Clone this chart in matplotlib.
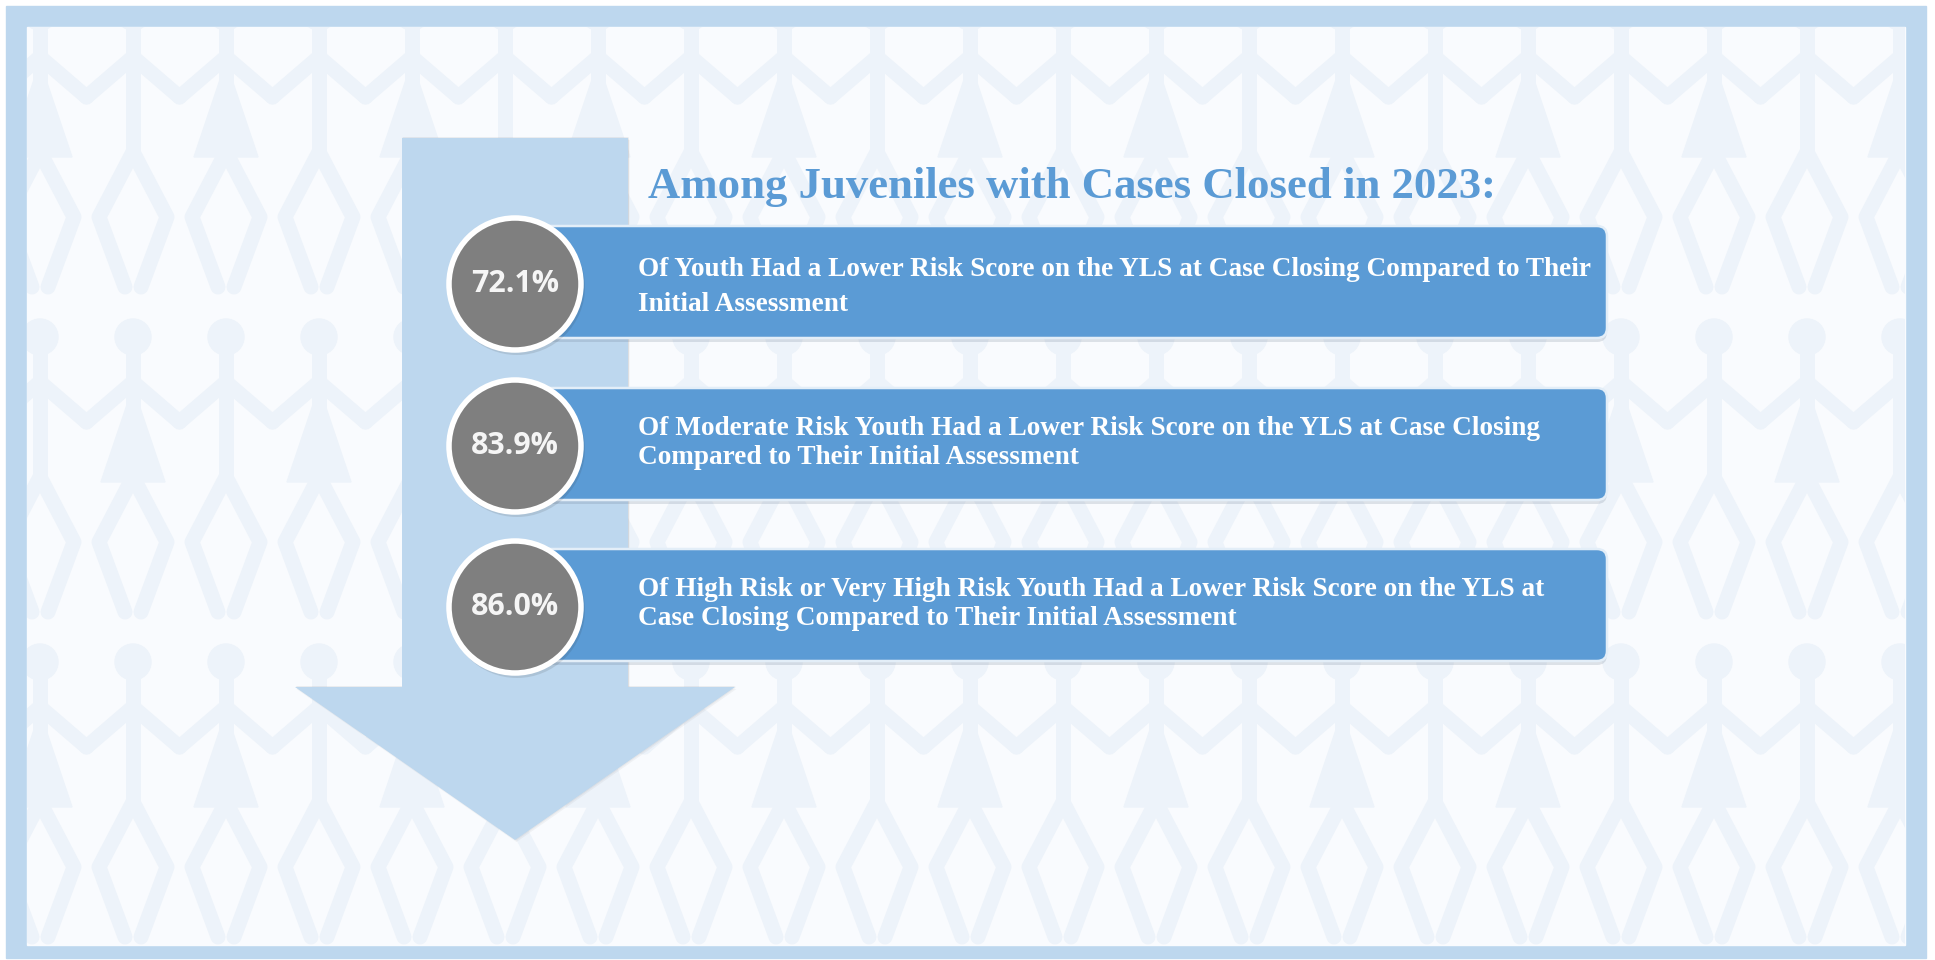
import matplotlib
matplotlib.use("Agg")
import matplotlib.pyplot as plt
from matplotlib.patches import Rectangle, Circle, Polygon, FancyBboxPatch

# content
title = "Among Juveniles with Cases Closed in 2023:"
percents = ["72.1%", "83.9%", "86.0%"]
line_one = [
    "Of Youth Had a Lower Risk Score on the YLS at Case Closing Compared to Their",
    "Of Moderate Risk Youth Had a Lower Risk Score on the YLS at Case Closing",
    "Of High Risk or Very High Risk Youth Had a Lower Risk Score on the YLS at",
]
line_two = [
    "Initial Assessment",
    "Compared to Their Initial Assessment",
    "Case Closing Compared to Their Initial Assessment",
]

frame_col = "#BDD7EE"
bg_col = "#F9FBFE"
doll_col = "#EDF3FA"
box_col = "#5B9BD5"
circle_col = "#7F7F7F"

W, H = 1935, 960
fig = plt.figure(figsize=(W / 100, H / 100), dpi=100)
ax = fig.add_axes([0, 0, 1, 1])
ax.set_xlim(0, W)
ax.set_ylim(H, 0)
ax.axis("off")
renderer = fig.canvas.get_renderer()

# frame + background
ax.add_patch(Rectangle((6, 6), 1920, 952, color=frame_col, zorder=0))
inner = Rectangle((27, 27), 1878, 918, color=bg_col, zorder=0.5)
ax.add_patch(inner)

# faint paper doll pattern
px = 72 / 100  # points per pixel


def doll(hx, hy, girl):
    kw = dict(color=doll_col, lw=15 * px, solid_capstyle="round", zorder=1)
    arts = []
    arts += ax.plot([hx, hx], [hy + 15, hy + 140], **kw)
    arts += ax.plot([hx - 46.5, hx, hx + 46.5], [hy + 85, hy + 45, hy + 85], **kw)
    arts += ax.plot([hx - 8, hx - 34, hx, hx + 34, hx + 8],
                    [hy + 275, hy + 205, hy + 140, hy + 205, hy + 275], **kw)
    head = Circle((hx, hy), 18, color=doll_col, zorder=1)
    ax.add_patch(head)
    arts.append(head)
    if girl:
        dress = Polygon([(hx, hy + 50), (hx - 32, hy + 145), (hx + 32, hy + 145)],
                        color=doll_col, zorder=1)
        ax.add_patch(dress)
        arts.append(dress)
    for a in arts:
        a.set_clip_path(inner)


for r, hy in enumerate([12, 337, 662]):
    for k in range(22):
        doll(40 + k * 93, hy, (k + r) % 2 == 0)

# big down arrow
arrow_pts = [(402, 138), (628, 138), (628, 687), (735, 687),
             (515, 840), (295, 687), (402, 687)]
for i, a in enumerate([0.05, 0.06, 0.08]):
    off = 5 - i * 1.5
    ax.add_patch(Polygon([(x + off * 0.3, y + off - 3) for x, y in arrow_pts],
                         closed=True, color="#404040", alpha=a, lw=0, zorder=2))
ax.add_patch(Polygon(arrow_pts, closed=True, color=frame_col, lw=0, zorder=3))

# title
probe = ax.text(0, 0, title, fontsize=20, family="Liberation Serif", weight="bold")
fs_title = 20 * 848 / probe.get_window_extent(renderer).width
probe.remove()
ax.text(648, 198, title, fontsize=fs_title, family="Liberation Serif",
        weight="bold", color=box_col, va="baseline", ha="left", zorder=6)

# box text size fitted to the first line width
probe = ax.text(0, 0, line_one[0], fontsize=20, family="Liberation Serif", weight="bold")
fs_box = 20 * 954 / probe.get_window_extent(renderer).width
probe.remove()
probe = ax.text(0, 0, percents[0], fontsize=20, family="Open Sans", weight="bold")
fs_pct = 20 * 88 / probe.get_window_extent(renderer).width
probe.remove()

box_tops = [226, 388, 549]
baselines = [(276, 311), (435, 464), (596, 625)]
for i in range(3):
    top = box_tops[i]
    cy = top + 56
    # shadow
    ax.add_patch(FancyBboxPatch((532, top + 4), 1075, 112,
                                boxstyle="round,pad=0,rounding_size=10",
                                fc="#5a6b80", ec="none", alpha=0.18, zorder=4))
    ax.add_patch(FancyBboxPatch((530, top), 1077, 112,
                                boxstyle="round,pad=0,rounding_size=10",
                                fc=box_col, ec="#E3EEF8", lw=2.5 * px, zorder=5))
    ax.text(638, baselines[i][0], line_one[i], fontsize=fs_box, family="Liberation Serif",
            weight="bold", color="white", va="baseline", ha="left", zorder=6)
    ax.text(638, baselines[i][1], line_two[i], fontsize=fs_box, family="Liberation Serif",
            weight="bold", color="white", va="baseline", ha="left", zorder=6)
    # circle
    ax.add_patch(Circle((517, cy + 5), 68, color="#303030", alpha=0.12, lw=0, zorder=6))
    ax.add_patch(Circle((515, cy + 2), 66, fc=circle_col, ec="white",
                        lw=5.5 * px, zorder=7))
    ax.text(515, cy + 2, percents[i], fontsize=fs_pct, family="Open Sans",
            weight="bold", color="#F5F5F5", ha="center", va="center", zorder=8)

fig.savefig("out.png", dpi=100, facecolor="white")
